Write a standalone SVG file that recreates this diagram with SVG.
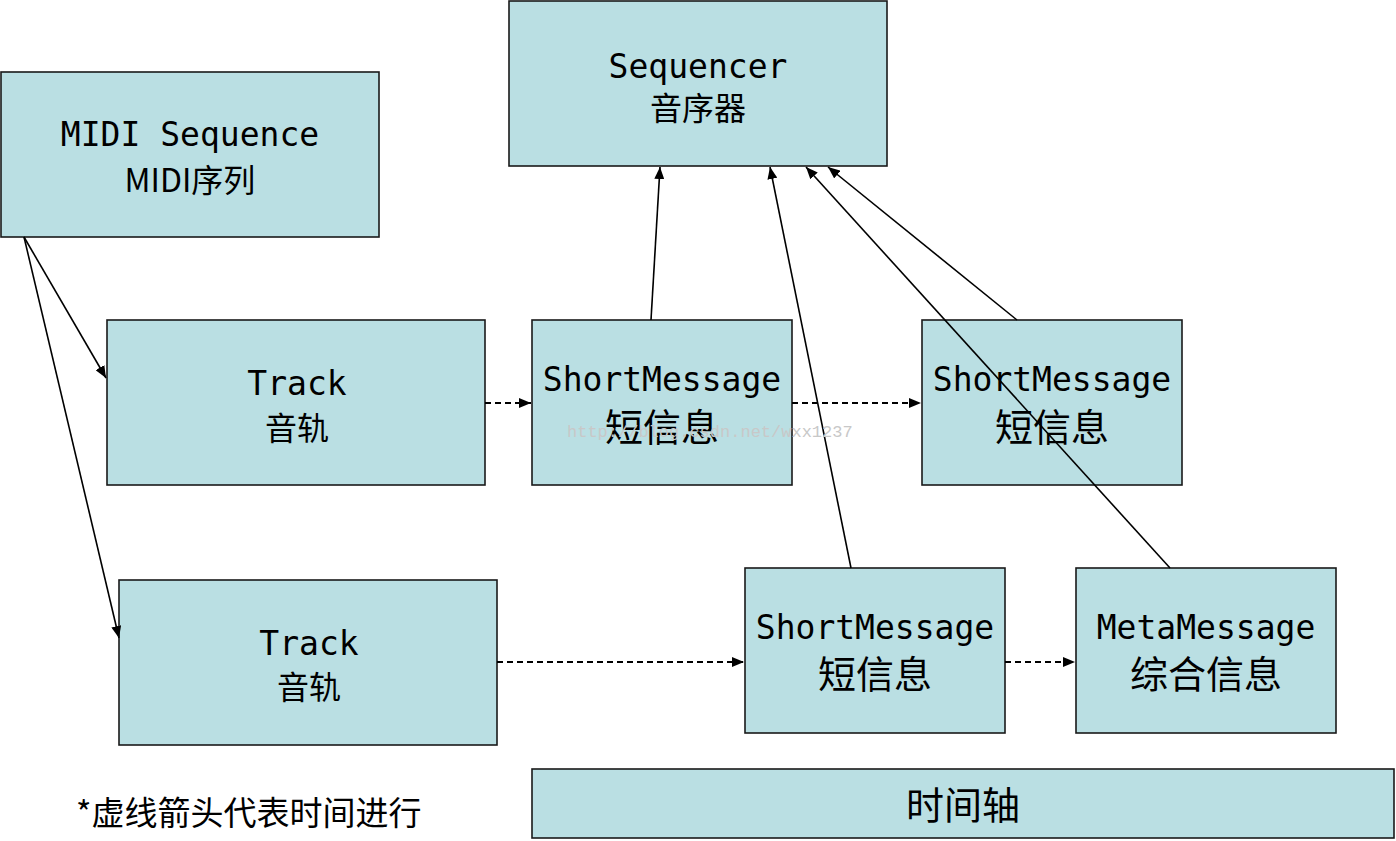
<svg xmlns="http://www.w3.org/2000/svg" width="1396" height="841" viewBox="0 0 1396 841">
<defs>
<style>
.box{fill:#BADFE3;stroke:#1a1a1a;stroke-width:1.6}
.en{font-family:"DejaVu Sans Mono","Liberation Mono",monospace;font-size:33px;fill:#000;text-anchor:middle}
.zh{font-family:"Noto Sans CJK SC","Noto Sans",sans-serif;font-size:32px;fill:#000;text-anchor:middle}
.zhb{font-family:"Noto Sans CJK SC","Noto Sans",sans-serif;font-size:38px;fill:#000;text-anchor:middle}
.ln{stroke:#000;stroke-width:1.6;fill:none;marker-end:url(#ah)}
.dl{stroke:#000;stroke-width:1.8;fill:none;stroke-dasharray:6 4;marker-end:url(#ah)}
.wm{font-family:"Liberation Mono",monospace;font-size:17px;fill:#c8c8c8}
</style>
<marker id="ah" viewBox="0 0 12 10" refX="12" refY="5" markerWidth="12" markerHeight="10" markerUnits="userSpaceOnUse" orient="auto">
<path d="M0,0 L12,5 L0,10 Z" fill="#000"/>
</marker>
</defs>
<rect width="1396" height="841" fill="#fff"/>
<g id="sequencer"><rect class="box" x="509" y="1" width="378" height="165"/><text class="en" x="698" y="78">Sequencer</text><text class="zh" x="698" y="120">音序器</text></g>
<g id="midi-sequence"><rect class="box" x="1" y="72" width="378" height="165"/><text class="en" x="190" y="146">MIDI Sequence</text><text class="zh" x="190" y="192">MIDI序列</text></g>
<g id="track1"><rect class="box" x="107" y="320" width="378" height="165"/><text class="en" x="297" y="395">Track</text><text class="zh" x="297" y="440">音轨</text></g>
<g id="short1"><rect class="box" x="532" y="320" width="260" height="165"/><text class="en" x="662" y="391">ShortMessage</text><text class="zhb" x="662" y="441">短信息</text></g>
<g id="short2"><rect class="box" x="922" y="320" width="260" height="165"/><text class="en" x="1052" y="391">ShortMessage</text><text class="zhb" x="1052" y="441">短信息</text></g>
<g id="track2"><rect class="box" x="119" y="580" width="378" height="165"/><text class="en" x="309" y="655">Track</text><text class="zh" x="309" y="699">音轨</text></g>
<g id="short3"><rect class="box" x="745" y="568" width="260" height="165"/><text class="en" x="875" y="639">ShortMessage</text><text class="zhb" x="875" y="688">短信息</text></g>
<g id="meta"><rect class="box" x="1076" y="568" width="260" height="165"/><text class="en" x="1206" y="639">MetaMessage</text><text class="zhb" x="1206" y="688">综合信息</text></g>
<g id="timeline"><rect class="box" x="532" y="769" width="862" height="69"/><text class="zhb" x="963" y="819">时间轴</text></g>
<g id="note"><text x="76" y="825" style="font-family:'Noto Sans CJK SC',sans-serif;font-size:33px;fill:#000">*虚线箭头代表时间进行</text></g>
<g id="connectors">
<line class="ln" x1="24" y1="237" x2="106" y2="378"/>
<line class="ln" x1="24" y1="237" x2="119" y2="638"/>
<line class="dl" x1="485" y1="403" x2="531" y2="403"/>
<line class="dl" x1="792" y1="403" x2="921" y2="403"/>
<line class="dl" x1="497" y1="662" x2="744" y2="662"/>
<line class="dl" x1="1005" y1="662" x2="1075" y2="662"/>
<line class="ln" x1="651" y1="320" x2="660" y2="167"/>
<line class="ln" x1="851" y1="568" x2="770" y2="167"/>
<line class="ln" x1="1170" y1="568" x2="806" y2="167"/>
<line class="ln" x1="1017" y1="320" x2="828" y2="167"/>
</g>
<text class="wm" x="567" y="437">http://blog.csdn.net/wxx1237</text>
</svg>
